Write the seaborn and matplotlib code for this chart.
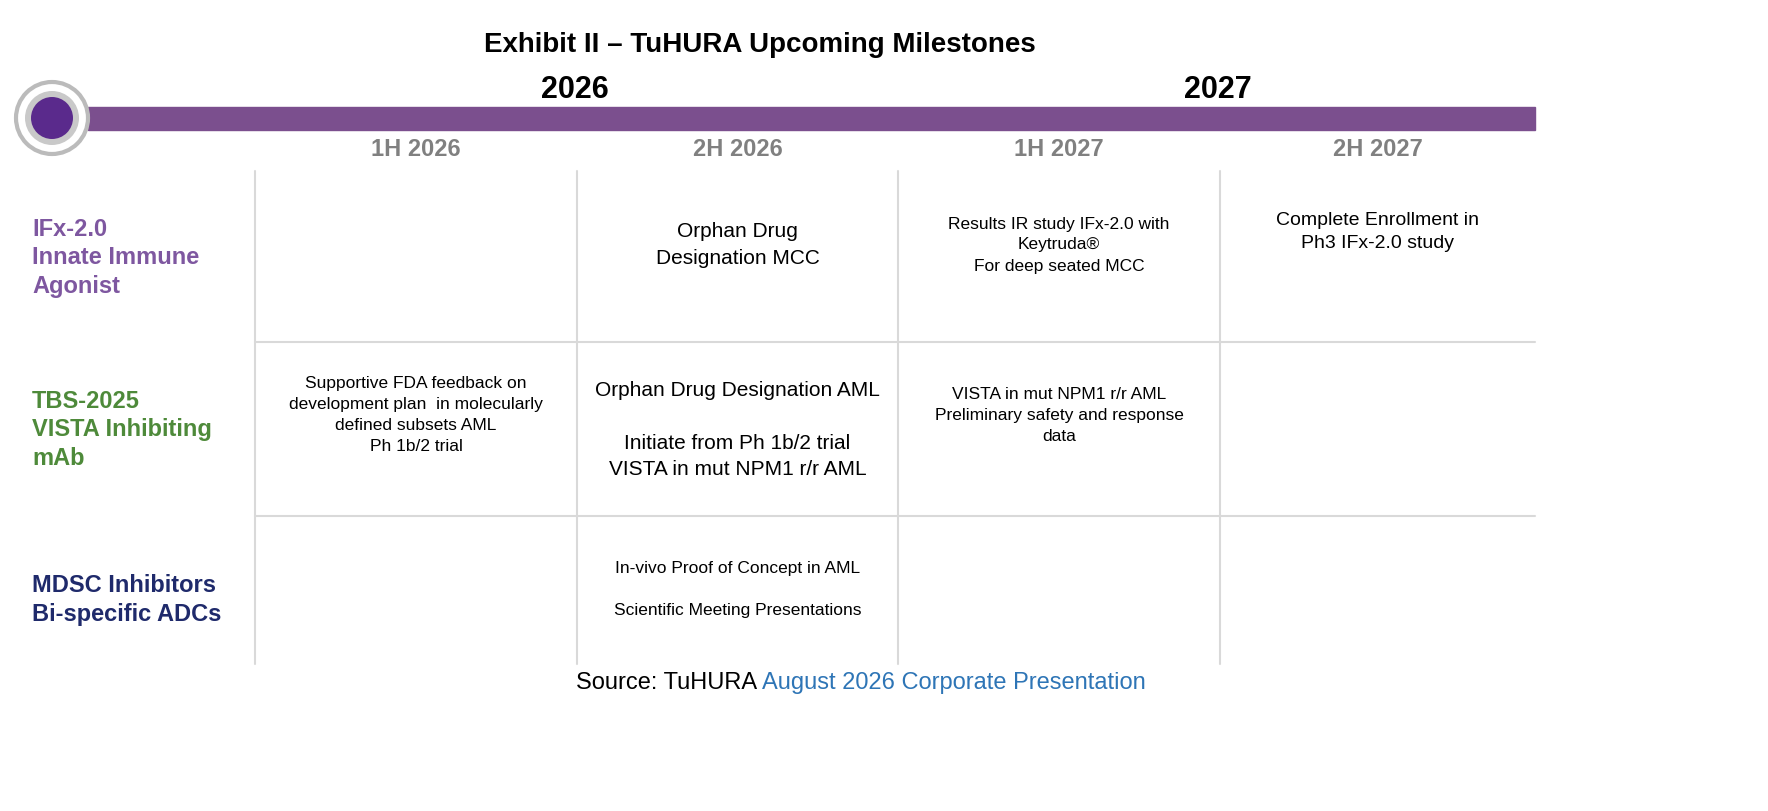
import matplotlib
matplotlib.use("Agg")
import matplotlib.pyplot as plt
import seaborn as sns
from matplotlib.patches import Circle, Rectangle

sns.set_theme(style="white")
plt.rcParams['font.family'] = ['Liberation Sans', 'DejaVu Sans']

title = "Exhibit II \u2013 TuHURA Upcoming Milestones"
years = ["2026", "2027"]
halves = ["1H 2026", "2H 2026", "1H 2027", "2H 2027"]
rows = ["IFx-2.0\nInnate Immune\nAgonist", "TBS-2025\nVISTA Inhibiting\nmAb", "MDSC Inhibitors\nBi-specific ADCs"]
row_colors = ["#7E57A0", "#4E8A3A", "#1F2A6B"]
cells = [
    ["", "Orphan Drug\nDesignation MCC",
     "Results IR study IFx-2.0 with\nKeytruda\u00ae\nFor deep seated MCC",
     "Complete Enrollment in\nPh3 IFx-2.0 study"],
    ["Supportive FDA feedback on\ndevelopment plan  in molecularly\ndefined subsets AML\nPh 1b/2 trial",
     "Orphan Drug Designation AML\n\nInitiate from Ph 1b/2 trial\nVISTA in mut NPM1 r/r AML",
     "VISTA in mut NPM1 r/r AML\nPreliminary safety and response\ndata", ""],
    ["", "In-vivo Proof of Concept in AML\n\nScientific Meeting Presentations", "", ""],
]
cell_sizes = [[13, 15, 12.5, 14], [12.5, 15, 12.5, 12.5], [12.5, 12.5, 12.5, 12.5]]
cell_y = [[0, 245, 245, 232], [415, 430, 416, 0], [0, 590, 0, 0]]

fig = plt.figure(figsize=(17.68, 8.12), dpi=100)
ax = fig.add_axes([0, 0, 1, 1])
ax.set_xlim(0, 1768)
ax.set_ylim(812, 0)
ax.axis("off")

ax.text(760, 45, title, ha="center", va="center", fontsize=20, fontweight="bold", color="black")

# timeline bar
ax.add_patch(Rectangle((88, 108), 1447, 23, color="#7B4F8E", zorder=1))
ax.add_patch(Circle((52, 119), 36, facecolor="white", edgecolor="#BBBBBB", lw=3, zorder=2))
ax.add_patch(Circle((52, 119), 27, facecolor="#C9C9C9", edgecolor="none", zorder=3))
ax.add_patch(Circle((52, 119), 21, facecolor="#5A2A8C", edgecolor="none", zorder=4))
for yr, x in zip(years, [575, 1218]):
    ax.text(x, 90, yr, ha="center", va="center", fontsize=22, fontweight="bold", color="black")

col_edges = [255, 577, 898, 1220, 1535]
col_mid = [(col_edges[i] + col_edges[i + 1]) / 2 for i in range(4)]
for h, x in zip(halves, col_mid):
    ax.text(x, 150, h, ha="center", va="center", fontsize=17, fontweight="bold", color="#808080")

for x in col_edges[:4]:
    ax.plot([x, x], [172, 665], color="#D9D9D9", lw=1.5)
for y in [343, 517]:
    ax.plot([255, 1535], [y, y], color="#D9D9D9", lw=1.5)

row_mid = [258, 430, 600]
for r, (lab, c, ym) in enumerate(zip(rows, row_colors, row_mid)):
    ax.text(32, ym, lab, ha="left", va="center", fontsize=17, fontweight="bold",
            color=c, linespacing=1.3)
    for j in range(4):
        if cells[r][j]:
            ax.text(col_mid[j], cell_y[r][j], cells[r][j], ha="center", va="center",
                    fontsize=cell_sizes[r][j], color="black", linespacing=1.5)

ax.text(762, 683, "Source: TuHURA ", ha="right", va="center", fontsize=17, color="black")
ax.text(762, 683, "August 2026 Corporate Presentation", ha="left", va="center", fontsize=17, color="#2E75B6")

fig.savefig("out.png", dpi=100)
